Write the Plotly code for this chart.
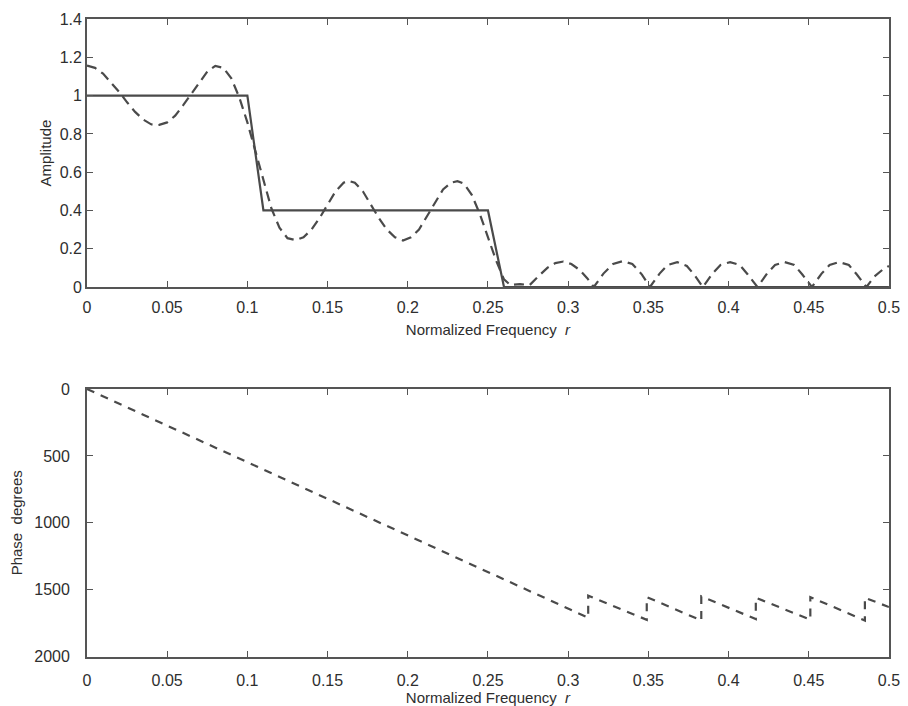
import plotly.graph_objects as go

# desired (ideal) amplitude response
ideal_r = [0, 0.1, 0.11, 0.25, 0.26, 0.5]
ideal_amp = [1, 1, 0.4, 0.4, 0, 0]

resp_r = [0, 0.005, 0.01, 0.015, 0.02, 0.025, 0.03, 0.035, 0.04, 0.043, 0.045, 0.05,
          0.055, 0.06, 0.065, 0.07, 0.075, 0.08, 0.085, 0.09, 0.095, 0.1, 0.105, 0.11,
          0.115, 0.12, 0.125, 0.13, 0.135, 0.14, 0.145, 0.15, 0.155, 0.16, 0.163, 0.167,
          0.172, 0.177, 0.182, 0.187, 0.192, 0.197, 0.202, 0.207, 0.212, 0.217, 0.222,
          0.227, 0.231, 0.235, 0.24, 0.245, 0.25, 0.255, 0.26, 0.264, 0.27, 0.276, 0.282,
          0.287, 0.292, 0.297, 0.302, 0.307, 0.312, 0.316, 0.322, 0.328, 0.334, 0.34,
          0.346, 0.351, 0.357, 0.362, 0.368, 0.374, 0.379, 0.384, 0.39, 0.395, 0.401,
          0.407, 0.412, 0.418, 0.424, 0.429, 0.435, 0.441, 0.446, 0.452, 0.458, 0.463,
          0.469, 0.475, 0.48, 0.486, 0.491, 0.496, 0.5]
resp_amp = [1.157, 1.145, 1.115, 1.07, 1.02, 0.965, 0.915, 0.875, 0.85, 0.845, 0.847, 0.86,
            0.895, 0.95, 1.01, 1.07, 1.125, 1.155, 1.145, 1.09, 0.99, 0.86, 0.71, 0.55,
            0.41, 0.31, 0.255, 0.245, 0.26, 0.3, 0.36, 0.43, 0.5, 0.545, 0.555, 0.545,
            0.5, 0.43, 0.36, 0.3, 0.26, 0.243, 0.26, 0.3, 0.37, 0.44, 0.51,
            0.545, 0.553, 0.54, 0.48, 0.38, 0.26, 0.14, 0.04, 0.01, 0.015, 0.01, 0.06,
            0.1, 0.125, 0.133, 0.12, 0.09, 0.045, 0.0, 0.07, 0.12, 0.135, 0.12,
            0.065, 0.0, 0.07, 0.115, 0.13, 0.11, 0.06, 0.0, 0.07, 0.115, 0.13,
            0.115, 0.065, 0.0, 0.07, 0.115, 0.13, 0.115, 0.065, 0.0, 0.07, 0.115,
            0.13, 0.115, 0.065, 0.0, 0.055, 0.09, 0.11]

# phase response (degrees), sawtooth after the stopband zeros
phase_r = [0, 0.3125, 0.3125, 0.349, 0.349, 0.383, 0.383, 0.417, 0.417, 0.451, 0.451,
           0.485, 0.485, 0.5]
phase_deg = [0, 1710, 1545, 1725, 1555, 1730, 1550, 1720, 1560, 1725, 1555, 1730, 1560, 1630]

freq_ticks = [0, 0.05, 0.1, 0.15, 0.2, 0.25, 0.3, 0.35, 0.4, 0.45, 0.5]
freq_labels = ["0", "0.05", "0.1", "0.15", "0.2", "0.25", "0.3", "0.35", "0.4", "0.45", "0.5"]
amp_ticks = [0, 0.2, 0.4, 0.6, 0.8, 1, 1.2, 1.4]
amp_labels = ["0", "0.2", "0.4", "0.6", "0.8", "1", "1.2", "1.4"]
phase_ticks = [0, 500, 1000, 1500, 2000]
phase_labels = ["0", "500", "1000", "1500", "2000"]

ink = "#4a4a4a"
txt = "#2e2e2e"

fig = go.Figure()
fig.add_trace(go.Scatter(x=ideal_r, y=ideal_amp, mode="lines",
                         line=dict(color=ink, width=2.2), xaxis="x", yaxis="y"))
fig.add_trace(go.Scatter(x=resp_r, y=resp_amp, mode="lines",
                         line=dict(color=ink, width=2.2, dash="10px,6px"), xaxis="x", yaxis="y"))
fig.add_trace(go.Scatter(x=phase_r, y=phase_deg, mode="lines",
                         line=dict(color=ink, width=2.2, dash="8px,7px"), xaxis="x2", yaxis="y2"))

axis_style = dict(showline=True, linecolor="#555555", linewidth=1.8, mirror="allticks",
                  ticks="inside", ticklen=6, tickcolor="#555555", showgrid=False,
                  zeroline=False, automargin=False, tickfont=dict(size=16, color=txt))

fig.update_layout(
    width=908, height=706,
    margin=dict(l=0, r=0, t=0, b=0),
    paper_bgcolor="white", plot_bgcolor="white",
    showlegend=False,
    font=dict(family="Liberation Sans, Arial, sans-serif", size=16, color=txt),
    xaxis=dict(domain=[0.0958, 0.979], range=[0, 0.5], tickvals=freq_ticks, ticktext=freq_labels,
               ticklabelstandoff=5,
               title=dict(text="Normalized Frequency  <i>r</i>", font=dict(size=15), standoff=9),
               anchor="y", **axis_style),
    yaxis=dict(domain=[0.5935, 0.973], range=[0, 1.4], tickvals=amp_ticks, ticktext=amp_labels,
               title=dict(text="Amplitude", font=dict(size=15), standoff=4),
               anchor="x", **axis_style),
    xaxis2=dict(domain=[0.0958, 0.979], range=[0, 0.5], tickvals=freq_ticks, ticktext=freq_labels,
                ticklabelstandoff=8,
                title=dict(text="Normalized Frequency  <i>r</i>", font=dict(size=15), standoff=6),
                anchor="y2", **axis_style),
    yaxis2=dict(domain=[0.07, 0.449], range=[2000, 0], tickvals=phase_ticks, ticktext=phase_labels,
                ticklabelstandoff=12,
                title=dict(text="Phase  degrees", font=dict(size=15), standoff=8),
                anchor="x2", **axis_style),
)

fig.write_html("out.html", config={"displayModeBar": False},
               post_script="document.body.style.margin = '0';")
